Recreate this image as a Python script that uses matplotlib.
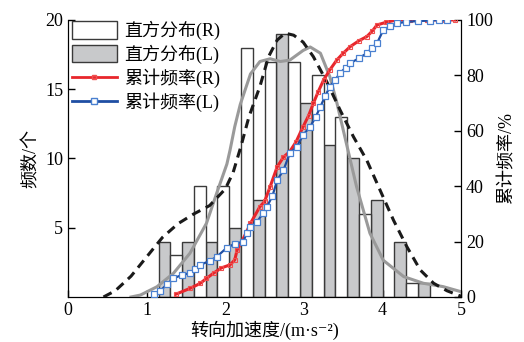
import matplotlib
matplotlib.use("Agg")
import matplotlib.pyplot as plt
from matplotlib.patches import Patch
from matplotlib.lines import Line2D

plt.rcParams['font.family'] = ['Liberation Serif', 'Noto Sans CJK SC', 'DejaVu Serif']

# ---- data ----
bar_width = 0.15
L_starts = [1.15, 1.45, 1.75, 2.05, 2.35, 2.65, 2.95, 3.25, 3.55, 3.85, 4.15, 4.45]
L_counts = [4, 4, 4, 5, 7, 19, 14, 11, 10, 7, 4, 1]
R_starts = [1.30, 1.60, 1.90, 2.20, 2.50, 2.80, 3.10, 3.40, 3.70, 4.00, 4.30]
R_counts = [3, 8, 8, 18, 17, 17, 16, 13, 6, 0, 1]

fit_x = [0.45, 0.6, 0.8, 1.0, 1.2, 1.4, 1.6, 1.8, 2.0, 2.1, 2.2, 2.3, 2.44, 2.55, 2.66,
         2.76, 2.87, 2.99, 3.12, 3.29, 3.46, 3.63, 3.80, 3.97, 4.14, 4.31, 4.48, 4.65, 4.82, 5.0]
fit_y = [0, 0.45, 1.5, 2.9, 4.3, 5.3, 6.0, 6.6, 7.8, 9.0, 10.9, 13.0, 15.2, 17.35, 18.55,
         19.05, 18.9, 18.4, 17.35, 15.55, 13.5, 11.57, 9.87, 7.7, 5.54, 3.63, 1.95, 0.99, 0.45, 0.05]

kde_x = [0.8, 0.92, 1.13, 1.34, 1.55, 1.76, 1.89, 2.02, 2.06, 2.12, 2.19, 2.32, 2.44, 2.57,
         2.70, 2.82, 2.99, 3.08, 3.21, 3.33, 3.42, 3.55, 3.67, 3.84, 4.01, 4.27, 4.52, 4.77, 5.0]
kde_y = [0, 0.14, 0.74, 1.71, 3.16, 5.32, 7.49, 9.6, 10.6, 12.3, 13.9, 16.1, 17.0, 17.2,
         17.0, 17.1, 17.8, 18.05, 17.6, 15.9, 14.0, 10.85, 7.96, 4.6, 2.65, 1.47, 0.99, 0.75, 0.38]

cumR_x = [1.37, 1.55, 1.68, 1.76, 1.85, 1.95, 2.06, 2.12, 2.15, 2.21, 2.27, 2.32, 2.44, 2.50,
          2.57, 2.66, 2.74, 2.82, 2.90, 2.99, 3.06, 3.12, 3.18, 3.25, 3.33, 3.42, 3.50, 3.59,
          3.70, 3.80, 3.87, 3.93, 4.05, 4.18, 4.35, 4.56, 4.75, 4.92]
cumR_y = [1.0, 3.1, 4.9, 6.7, 8.6, 10.5, 11.6, 13.4, 17.0, 20.0, 23.5, 26.6, 32.6, 34.5,
          39.8, 47.0, 50.5, 52.5, 56.0, 61.5, 65.5, 69.9, 74.0, 78.3, 82.0, 85.6, 88.0, 90.4,
          92.5, 94.0, 96.0, 98.2, 99.2, 100, 100, 100, 100, 100]

cumL_x = [1.09, 1.17, 1.26, 1.34, 1.45, 1.55, 1.62, 1.68, 1.80, 1.89, 2.02, 2.12, 2.23, 2.27,
          2.32, 2.40, 2.48, 2.53, 2.60, 2.66, 2.74, 2.82, 2.91, 2.99, 3.08, 3.15, 3.21, 3.27,
          3.33, 3.40, 3.46, 3.53, 3.59, 3.70, 3.80, 3.87, 3.93, 4.01, 4.10, 4.18, 4.30, 4.45,
          4.60, 4.72, 4.82]
cumL_y = [1.1, 2.2, 4.6, 6.7, 8.0, 8.6, 10.0, 11.6, 13.0, 14.5, 17.8, 19.2, 20.0, 23.0,
          25.4, 27.0, 30.2, 32.6, 36.5, 42.2, 45.8, 51.9, 54.3, 58.5, 61.5, 65.0, 68.7, 72.5,
          75.9, 78.5, 80.8, 82.8, 84.4, 86.2, 88.0, 90.0, 91.6, 96.4, 97.8, 98.8, 99.3, 99.6,
          99.8, 100, 100]

x_ticks = [0, 1, 2, 3, 4, 5]
yl_ticks = [5, 10, 15, 20]
yr_ticks = [0, 20, 40, 60, 80, 100]

legend_labels = ['直方分布(R)', '直方分布(L)', '累计频率(R)', '累计频率(L)']

# ---- plot ----
fs = 13
fig = plt.figure(figsize=(5.24, 3.42), dpi=100)
ax = fig.add_axes([0.130, 0.1316, 0.750, 0.810])

edge = '#3a3a3a'
grey = '#c8c9cb'
ax.bar(L_starts, L_counts, width=bar_width, align='edge', color=grey, edgecolor=edge, lw=1.0, zorder=2)
ax.bar(R_starts, R_counts, width=bar_width, align='edge', color='white', edgecolor=edge, lw=1.0, zorder=2)
ax.plot(kde_x, kde_y, color='#9a9a9a', lw=2.2, zorder=3)
ax.plot(fit_x, fit_y, color='#1a1a1a', lw=2.2, ls=(0, (3, 2.0)), zorder=4)

ax.set_xlim(0, 5)
ax.set_ylim(0, 20)
ax.set_xticks(x_ticks)
ax.set_yticks(yl_ticks)
ax.tick_params(direction='in', length=5, labelsize=fs, width=1)
ax.spines['top'].set_visible(False)
ax.set_xlabel('转向加速度/(m·s⁻²)', fontsize=fs, labelpad=1)
ax.set_ylabel('频数/个', fontsize=fs, labelpad=4)

ax2 = ax.twinx()
red = '#e8262c'
blue = '#1f4ea3'
ax2.plot(cumR_x, cumR_y, color=red, lw=2.2, marker='s', ms=3.5, mfc='none', mec='#f05050', mew=0.8, zorder=5)
ax2.plot(cumL_x, cumL_y, color=blue, lw=1.6, marker='s', ms=4.2, mfc='white', mec='#4a80d0', mew=0.9, zorder=6)
ax2.set_ylim(0, 100)
ax2.set_yticks(yr_ticks)
ax2.tick_params(direction='in', length=5, labelsize=fs, width=1)
ax2.spines['top'].set_visible(False)
ax2.set_ylabel('累计频率/%', fontsize=fs, labelpad=4)

handles = [
    Patch(facecolor='white', edgecolor=edge, lw=1.0),
    Patch(facecolor=grey, edgecolor=edge, lw=1.0),
    Line2D([], [], color=red, lw=2.0, marker='s', ms=3.5, mfc='none', mec='#f05050'),
    Line2D([], [], color=blue, lw=2.0, marker='s', ms=4.2, mfc='white', mec='#4a80d0'),
]
leg = ax2.legend(handles, legend_labels, loc='upper left', bbox_to_anchor=(0.0, 1.01),
                 frameon=False, fontsize=fs, handlelength=2.5, handleheight=1.1,
                 labelspacing=0.25, handletextpad=0.4, borderaxespad=0, borderpad=0.2)

fig.savefig('out.png', dpi=100)
